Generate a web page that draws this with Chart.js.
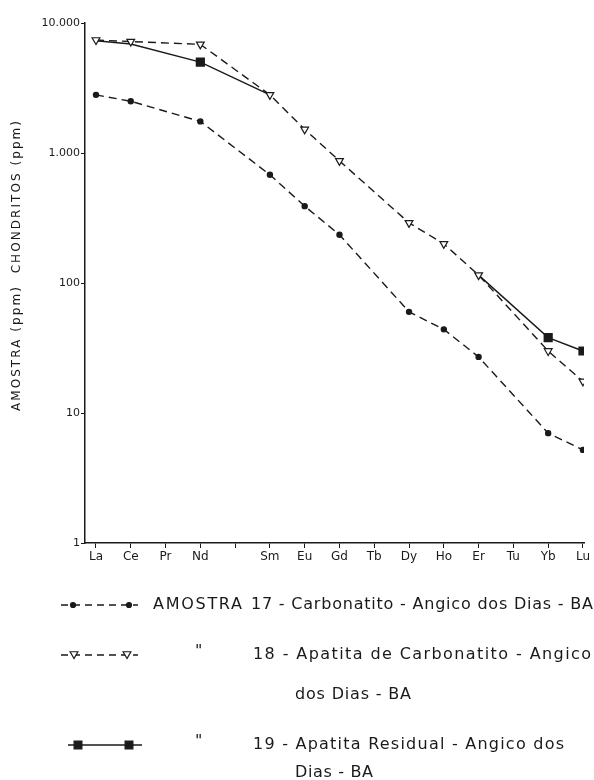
<!DOCTYPE html>
<html>
<head>
<meta charset="utf-8">
<script src="https://cdn.jsdelivr.net/npm/chart.js@4"></script>
<style>
  html, body { margin: 0; padding: 0; background: #fff; }
</style>
</head>
<body>
<canvas id="myChart" width="594" height="780"></canvas>
<script>
// elementos terras raras (Pm sem valor = coluna vazia)
var elementos = ['La', 'Ce', 'Pr', 'Nd', '', 'Sm', 'Eu', 'Gd', 'Tb', 'Dy', 'Ho', 'Er', 'Tu', 'Yb', 'Lu'];

var amostra17 = [2800, 2500, null, 1750, null, 680, 390, 235, null, 60, 44, 27, null, 7, 5.2];
var amostra18 = [7400, 7200, null, 6850, null, 2800, 1520, 870, null, 290, 200, 115, null, 30, 17.5];
var amostra19 = [7300, 6900, null, 5000, null, 2800, null, null, null, null, null, 115, null, 38, 30];
var quadrados19 = ['Nd', 'Yb', 'Lu'];   // onde aparece o quadrado

var yTicks = [1, 10, 100, 1000, 10000];

var tinta = '#1a1a1a';
var fonte = 'DejaVu Sans';

function pontos(arr) {
    return arr.map(function (v, i) { return { x: i, y: v }; });
}
function milhar(v) {
    return String(v).replace(/\B(?=(\d{3})+(?!\d))/g, '.');
}

// texto ajustado a uma largura
function texto(ctx, str, x, y, largura) {
    ctx.letterSpacing = '0px';
    var w = ctx.measureText(str).width;
    if (largura && str.length > 1) {
        ctx.letterSpacing = ((largura - w) / (str.length - 1)) + 'px';
    }
    ctx.fillText(str, x, y);
    ctx.letterSpacing = '0px';
}

var extras = {
    id: 'extras',
    afterDraw: function (chart) {
        var ctx = chart.ctx;
        ctx.save();
        ctx.fillStyle = tinta;
        ctx.strokeStyle = tinta;
        ctx.textBaseline = 'middle';
        ctx.textAlign = 'left';

        // titulo do eixo y
        ctx.save();
        ctx.translate(17, 266);
        ctx.rotate(-Math.PI / 2);
        ctx.font = '12px "' + fonte + '"';
        texto(ctx, 'AMOSTRA (ppm)  CHONDRITOS (ppm)', -145, 0, 290);
        ctx.restore();

        // legenda
        ctx.font = '16px "' + fonte + '"';
        var linha = function (x1, x2, y, dash) {
            ctx.save();
            ctx.lineWidth = 1.3;
            ctx.setLineDash(dash);
            ctx.beginPath();
            ctx.moveTo(x1, y);
            ctx.lineTo(x2, y);
            ctx.stroke();
            ctx.restore();
        };
        var marca = function (estilo, r, rot, fundo, x, y) {
            ctx.save();
            ctx.fillStyle = fundo;
            ctx.strokeStyle = tinta;
            ctx.lineWidth = 1.2;
            Chart.helpers.drawPoint(ctx, { pointStyle: estilo, radius: r, rotation: rot, borderWidth: 1.2 }, x, y);
            ctx.restore();
        };

        // 17
        linha(61, 138, 605, [7, 5]);
        marca('circle', 2.5, 0, tinta, 73, 605);
        marca('circle', 2.5, 0, tinta, 129, 605);
        texto(ctx, 'AMOSTRA', 153, 605, 89);
        texto(ctx, '17 - Carbonatito - Angico dos Dias - BA', 251, 605, 342);

        // 18
        linha(61, 138, 655, [7, 5]);
        marca('triangle', 4.5, 180, '#fff', 74, 654);
        marca('triangle', 4.5, 180, '#fff', 127, 654);
        texto(ctx, '"', 195, 652);
        texto(ctx, '18 - Apatita de Carbonatito - Angico', 253, 655, 338);
        texto(ctx, 'dos Dias - BA', 295, 695, 116);

        // 19
        linha(68, 142, 745, []);
        marca('rect', 5.5, 0, tinta, 78, 745);
        marca('rect', 5.5, 0, tinta, 129, 745);
        texto(ctx, '"', 195, 742);
        texto(ctx, '19 - Apatita Residual - Angico dos', 253, 745, 311);
        texto(ctx, 'Dias - BA', 295, 773, 78);

        ctx.restore();
    }
};

var ctx = document.getElementById('myChart');
var myChart = new Chart(ctx, {
    type: 'line',
    data: {
        datasets: [{
            label: '17',
            data: pontos(amostra17),
            borderColor: tinta,
            borderWidth: 1.4,
            borderDash: [8, 5],
            pointStyle: 'circle',
            pointRadius: 2.5,
            pointBackgroundColor: tinta,
            pointBorderColor: tinta,
            spanGaps: true
        }, {
            label: '18',
            data: pontos(amostra18),
            borderColor: tinta,
            borderWidth: 1.4,
            borderDash: [8, 5],
            pointStyle: 'triangle',
            pointRotation: 180,
            pointRadius: 4.5,
            pointBackgroundColor: '#fff',
            pointBorderColor: tinta,
            pointBorderWidth: 1.2,
            spanGaps: true
        }, {
            label: '19',
            data: pontos(amostra19),
            borderColor: tinta,
            borderWidth: 1.4,
            pointStyle: 'rect',
            pointRadius: function (c) {
                return quadrados19.indexOf(elementos[c.dataIndex]) >= 0 ? 5.5 : 0;
            },
            pointBackgroundColor: tinta,
            pointBorderColor: tinta,
            spanGaps: true,
            segment: {
                // trecho Sm-Er (varios valores faltando) nao desenhado
                borderColor: function (c) {
                    var i = c.p1DataIndex;
                    var longo = amostra19[i - 1] === null && amostra19[i - 2] === null;
                    return longo ? 'rgba(0,0,0,0)' : tinta;
                }
            }
        }]
    },
    options: {
        responsive: false,
        animation: false,
        devicePixelRatio: 1,
        layout: { padding: { top: 23, right: 10, left: 0, bottom: 0 } },
        plugins: {
            legend: { display: false },
            tooltip: { enabled: false }
        },
        scales: {
            x: {
                type: 'linear',
                min: -0.316,
                max: 14.03,
                afterBuildTicks: function (s) {
                    s.ticks = elementos.map(function (e, i) { return { value: i }; });
                },
                afterFit: function (s) { s.height = 237; },
                ticks: {
                    callback: function (v) { return elementos[v]; },
                    autoSkip: false,
                    maxRotation: 0,
                    padding: 2,
                    color: tinta,
                    font: { family: fonte, size: 12 }
                },
                grid: { drawOnChartArea: false, drawTicks: true, tickLength: 5, color: tinta, lineWidth: 1 },
                border: { color: tinta, width: 1.5 }
            },
            y: {
                type: 'logarithmic',
                min: 1,
                max: 10000,
                afterBuildTicks: function (s) {
                    s.ticks = yTicks.map(function (v) { return { value: v }; });
                },
                afterFit: function (s) { s.width = 85; },
                ticks: {
                    callback: function (v) { return milhar(v); },
                    autoSkip: false,
                    padding: 1,
                    color: tinta,
                    font: { family: fonte, size: 11 }
                },
                grid: { drawOnChartArea: false, drawTicks: true, tickLength: 4, color: tinta, lineWidth: 1 },
                border: { color: tinta, width: 1.5 }
            }
        }
    },
    plugins: [extras]
});
</script>
</body>
</html>
